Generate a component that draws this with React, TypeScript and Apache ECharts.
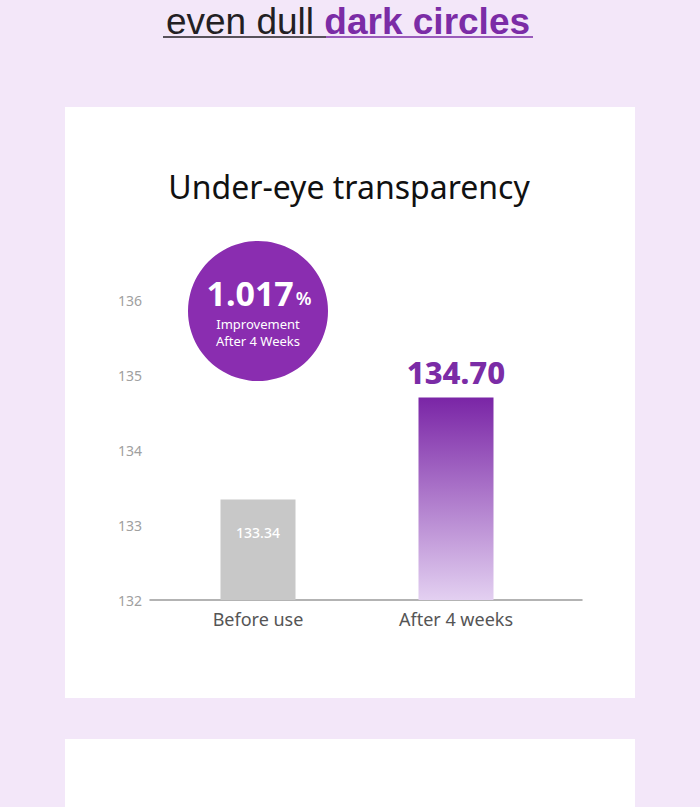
import React, { useEffect, useRef } from "react";
import * as echarts from "echarts";

const categories = ["Before use", "After 4 weeks"];
const values = [133.34, 134.7];
const valueLabels = ["133.34", "134.70"];
const yTicks = [132, 133, 134, 135, 136];
const chartTitle = "Under-eye transparency";
const headerPlain = "even dull ";
const headerAccent = "dark circles";
const badgeNumber = "1.017";
const badgeUnit = "%";
const badgeLines = ["Improvement", "After 4 Weeks"];

const FONT = "'Noto Sans', Inter, sans-serif";
const HFONT = "'Liberation Sans', Arial, sans-serif";
const PURPLE = "#7B2CA6";

export default function App() {
  const ref = useRef<HTMLDivElement>(null);
  useEffect(() => {
    document.body.style.margin = "0";
    const chart = echarts.init(ref.current!, undefined, { renderer: "svg" });
    const option: any = {
      animation: false,
      backgroundColor: "#F3E7F9",
      textStyle: { fontFamily: FONT },
      grid: [
        { left: 159, right: 145, top: 300, bottom: 207 },
        { left: 150, right: 118, top: 300, bottom: 207 },
      ],
      xAxis: [
        {
          type: "category",
          gridIndex: 0,
          data: categories,
          axisLine: { show: false },
          axisTick: { show: false },
          axisLabel: { color: "#555", fontSize: 18, margin: 10, fontFamily: FONT },
        },
        {
          type: "category",
          gridIndex: 1,
          data: [""],
          axisLine: { show: true, lineStyle: { color: "#9a9a9a", width: 1.5 } },
          axisTick: { show: false },
          axisLabel: { show: false },
        },
      ],
      yAxis: [
        {
          type: "value",
          gridIndex: 0,
          min: yTicks[0],
          max: yTicks[yTicks.length - 1],
          interval: 1,
          axisLine: { show: false },
          axisTick: { show: false },
          splitLine: { show: false },
          axisLabel: { color: "#a0a0a0", fontSize: 14, margin: 17, fontFamily: FONT },
        },
        {
          type: "value",
          gridIndex: 1,
          min: yTicks[0],
          max: yTicks[yTicks.length - 1],
          show: false,
        },
      ],
      graphic: [
        { type: "rect", shape: { x: 65, y: 107, width: 570, height: 591 }, style: { fill: "#fff" }, z: -10 },
        { type: "rect", shape: { x: 65, y: 739, width: 570, height: 100 }, style: { fill: "#fff" }, z: -10 },
        {
          type: "text",
          x: 348,
          y: 21,
          style: {
            text: `{a|${headerPlain}}{b|${headerAccent}}`,
            align: "center",
            verticalAlign: "middle",
            rich: {
              a: { fontSize: 37, lineHeight: 37, fill: "#231f24", fontFamily: HFONT, fontWeight: 400 },
              b: { fontSize: 37, lineHeight: 37, fill: PURPLE, fontFamily: HFONT, fontWeight: 700 },
            },
          },
        },
        { type: "line", shape: { x1: 163, y1: 37, x2: 326, y2: 37 }, style: { stroke: "#231f24", lineWidth: 1.5 } },
        { type: "line", shape: { x1: 326, y1: 37, x2: 533, y2: 37 }, style: { stroke: PURPLE, lineWidth: 1.5 } },
        {
          type: "text",
          x: 349,
          y: 186,
          style: { text: chartTitle, align: "center", verticalAlign: "middle", fontSize: 32, fill: "#111", fontFamily: FONT },
        },
        { type: "circle", shape: { cx: 258, cy: 311, r: 70 }, style: { fill: "#8A2DB0" }, z: 10 },
        {
          type: "text",
          x: 259,
          y: 293,
          z: 11,
          style: {
            text: `{n|${badgeNumber}}{p|${badgeUnit}}`,
            align: "center",
            verticalAlign: "middle",
            rich: {
              n: { fontSize: 34, fontWeight: 700, fill: "#fff", fontFamily: FONT },
              p: { fontSize: 18, fontWeight: 600, fill: "#fff", fontFamily: FONT, padding: [10, 0, 0, 2] },
            },
          },
        },
        {
          type: "text",
          x: 258,
          y: 332,
          z: 11,
          style: {
            text: badgeLines.join("\n"),
            align: "center",
            verticalAlign: "middle",
            fontSize: 13,
            lineHeight: 17,
            fill: "#fff",
            fontFamily: FONT,
          },
        },
      ],
      series: [
        {
          type: "bar",
          xAxisIndex: 0,
          yAxisIndex: 0,
          barWidth: 75,
          data: [
            {
              value: values[0],
              itemStyle: { color: "#C8C8C8" },
              label: {
                show: true,
                position: "insideTop",
                distance: 26,
                formatter: valueLabels[0],
                color: "#fff",
                fontSize: 14,
                fontWeight: 500,
                fontFamily: FONT,
              },
            },
            {
              value: values[1],
              itemStyle: {
                color: new echarts.graphic.LinearGradient(0, 0, 0, 1, [
                  { offset: 0, color: "#7A25A6" },
                  { offset: 1, color: "#E3D0F1" },
                ]),
              },
              label: {
                show: true,
                position: "top",
                distance: 10,
                formatter: valueLabels[1],
                color: PURPLE,
                fontSize: 31,
                fontWeight: 800,
                fontFamily: FONT,
              },
            },
          ],
        },
      ],
    };
    chart.setOption(option);
    return () => chart.dispose();
  }, []);
  return <div ref={ref} style={{ position: "absolute", left: 0, top: 0, width: 700, height: 807 }} />;
}
